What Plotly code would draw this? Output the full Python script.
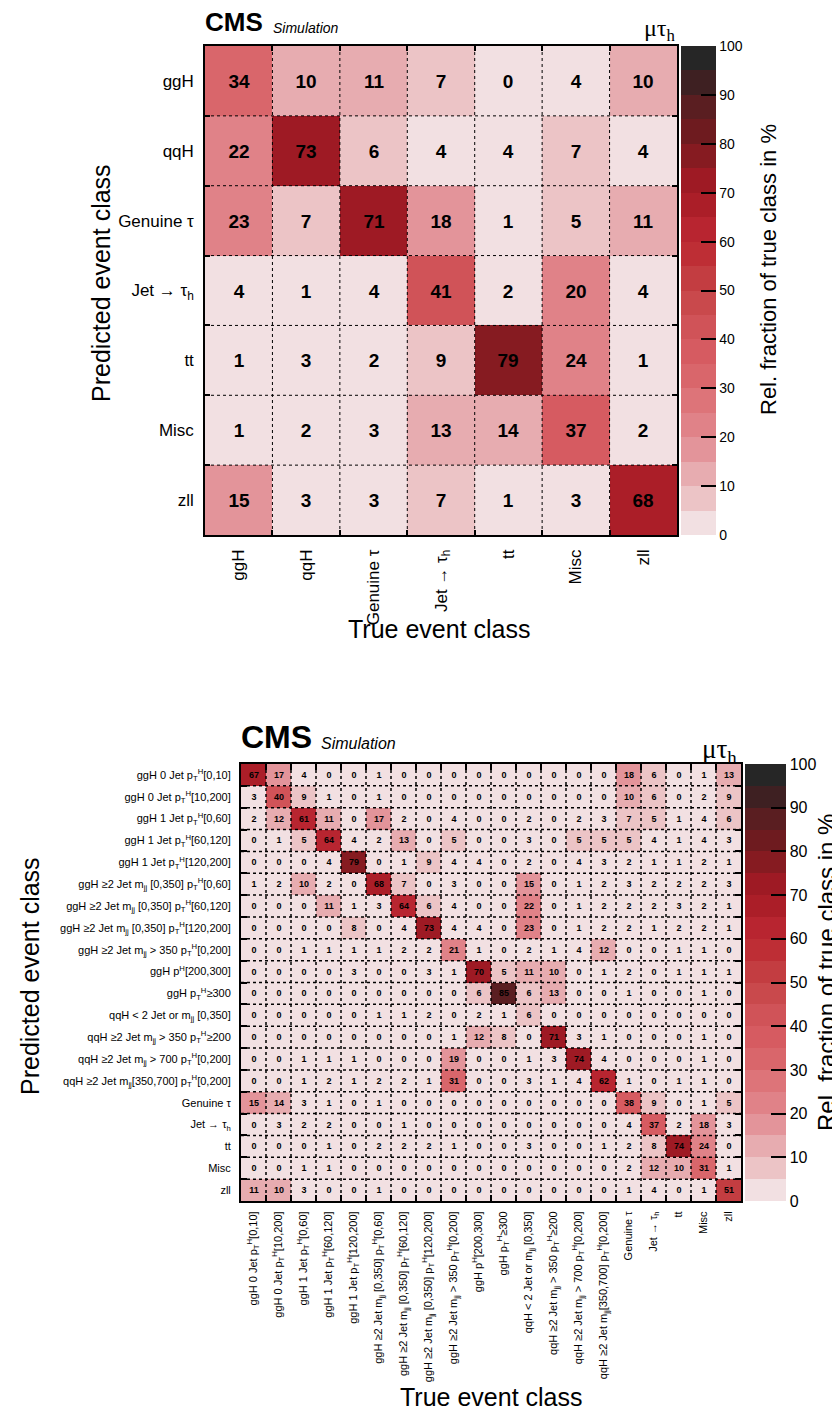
import plotly.graph_objects as go

W, H = 840, 1407
FONT = "Liberation Sans, Arial, Helvetica, sans-serif"

# ---------------- data ----------------
top_classes = ["ggH", "qqH", "Genuine τ", "Jet → τ<sub>h</sub>", "tt", "Misc", "zll"]
top_values = [
    [34, 10, 11, 7, 0, 4, 10],
    [22, 73, 6, 4, 4, 7, 4],
    [23, 7, 71, 18, 1, 5, 11],
    [4, 1, 4, 41, 2, 20, 4],
    [1, 3, 2, 9, 79, 24, 1],
    [1, 2, 3, 13, 14, 37, 2],
    [15, 3, 3, 7, 1, 3, 68],
]

pt = "p<sub>T</sub><sup>H</sup>"
bottom_classes = [
    "ggH 0 Jet " + pt + "[0,10]",
    "ggH 0 Jet " + pt + "[10,200]",
    "ggH 1 Jet " + pt + "[0,60]",
    "ggH 1 Jet " + pt + "[60,120]",
    "ggH 1 Jet " + pt + "[120,200]",
    "ggH ≥2 Jet m<sub>jj</sub> [0,350] " + pt + "[0,60]",
    "ggH ≥2 Jet m<sub>jj</sub> [0,350] " + pt + "[60,120]",
    "ggH ≥2 Jet m<sub>jj</sub> [0,350] " + pt + "[120,200]",
    "ggH ≥2 Jet m<sub>jj</sub> > 350 " + pt + "[0,200]",
    "ggH p<sup>H</sup>[200,300]",
    "ggH " + pt + "≥300",
    "qqH < 2 Jet or m<sub>jj</sub> [0,350]",
    "qqH ≥2 Jet m<sub>jj</sub> > 350 " + pt + "≥200",
    "qqH ≥2 Jet m<sub>jj</sub> > 700 " + pt + "[0,200]",
    "qqH ≥2 Jet m<sub>jj</sub>[350,700] " + pt + "[0,200]",
    "Genuine τ",
    "Jet → τ<sub>h</sub>",
    "tt",
    "Misc",
    "zll",
]
bottom_values = [
    [67, 17, 4, 0, 0, 1, 0, 0, 0, 0, 0, 0, 0, 0, 0, 18, 6, 0, 1, 13],
    [3, 40, 9, 1, 0, 1, 0, 0, 0, 0, 0, 0, 0, 0, 0, 10, 6, 0, 2, 9],
    [2, 12, 61, 11, 0, 17, 2, 0, 4, 0, 0, 2, 0, 2, 3, 7, 5, 1, 4, 6],
    [0, 1, 5, 64, 4, 2, 13, 0, 5, 0, 0, 3, 0, 5, 5, 5, 4, 1, 4, 3],
    [0, 0, 0, 4, 79, 0, 1, 9, 4, 4, 0, 2, 0, 4, 3, 2, 1, 1, 2, 1],
    [1, 2, 10, 2, 0, 68, 7, 0, 3, 0, 0, 15, 0, 1, 2, 3, 2, 2, 2, 3],
    [0, 0, 0, 11, 1, 3, 64, 6, 4, 0, 0, 22, 0, 1, 2, 2, 2, 3, 2, 1],
    [0, 0, 0, 0, 8, 0, 4, 73, 4, 4, 0, 23, 0, 1, 2, 2, 1, 2, 2, 1],
    [0, 0, 1, 1, 1, 1, 2, 2, 21, 1, 0, 2, 1, 4, 12, 0, 0, 1, 1, 0],
    [0, 0, 0, 0, 3, 0, 0, 3, 1, 70, 5, 11, 10, 0, 1, 2, 0, 1, 1, 1],
    [0, 0, 0, 0, 0, 0, 0, 0, 0, 6, 85, 6, 13, 0, 0, 1, 0, 0, 1, 0],
    [0, 0, 0, 0, 0, 1, 1, 2, 0, 2, 1, 6, 0, 0, 0, 0, 0, 0, 0, 0],
    [0, 0, 0, 0, 0, 0, 0, 0, 1, 12, 8, 0, 71, 3, 1, 0, 0, 0, 1, 0],
    [0, 0, 1, 1, 1, 0, 0, 0, 19, 0, 0, 1, 3, 74, 4, 0, 0, 0, 1, 0],
    [0, 0, 1, 2, 1, 2, 2, 1, 31, 0, 0, 3, 1, 4, 62, 1, 0, 1, 1, 0],
    [15, 14, 3, 1, 0, 1, 0, 0, 0, 0, 0, 0, 0, 0, 0, 38, 9, 0, 1, 5],
    [0, 3, 2, 2, 0, 0, 1, 0, 0, 0, 0, 0, 0, 0, 0, 4, 37, 2, 18, 3],
    [0, 0, 0, 1, 0, 2, 2, 2, 1, 0, 0, 3, 0, 0, 1, 2, 8, 74, 24, 0],
    [0, 0, 1, 1, 0, 0, 0, 0, 0, 0, 0, 0, 0, 0, 0, 2, 12, 10, 31, 1],
    [11, 10, 3, 0, 0, 1, 0, 0, 0, 0, 0, 0, 0, 0, 0, 1, 4, 0, 1, 51],
]
colorbar_ticks = [0, 10, 20, 30, 40, 50, 60, 70, 80, 90, 100]

# discrete palette, 20 bins of 5 %
palette = ["#f2e0e2", "#ecc4c6", "#e7acb0", "#e3949a", "#e08288", "#dd7479",
           "#d9666b", "#d65b61", "#d05358", "#c9494c", "#c33d41", "#be2e35",
           "#b82530", "#ab1e28", "#9e1a24", "#861b21", "#6e1b1f", "#5a1e21",
           "#3e2022", "#262626"]
colorscale = []
nb = len(palette)
for i, c in enumerate(palette):
    colorscale.append([i / nb, c])
    colorscale.append([(i + 1) / nb, c])


def px(x):
    return x / W


def py(y):
    return 1 - y / H


fig = go.Figure()

panels = [
    dict(classes=top_classes, values=top_values, xa="x", ya="y",
         box=(197, 669, 38, 527), cb=(673, 35), txt=19, tick=17, cbfont=14,
         line=1.5, dot=1, ticklen=5, cbtick=15, xstand=6),
    dict(classes=bottom_classes, values=bottom_values, xa="x2", ya="y2",
         box=(233, 733, 756, 1193), cb=(737, 41), txt=9, tick=11, cbfont=16,
         line=2, dot=1.5, ticklen=6, cbtick=15, xstand=4),
]

shapes = []
for k, p in enumerate(panels):
    n = len(p["classes"])
    x0, x1, y0, y1 = p["box"]
    fig.add_trace(go.Heatmap(
        z=p["values"], x=list(range(n)), y=list(range(n)),
        xaxis=p["xa"], yaxis=p["ya"],
        zmin=0, zmax=100, colorscale=colorscale,
        texttemplate="%{z}",
        textfont=dict(family=FONT, size=p["txt"], color="black", weight="bold"),
        hoverinfo="skip",
        colorbar=dict(
            x=px(p["cb"][0]), xanchor="left", y=py(y0), yanchor="top",
            len=(y1 - y0) / H, lenmode="fraction",
            thickness=p["cb"][1], thicknessmode="pixels",
            xpad=0, ypad=0, outlinewidth=0,
            tickvals=colorbar_ticks, ticks="inside", ticklen=p["cbtick"],
            tickwidth=1.5, tickcolor="black",
            tickfont=dict(family=FONT, size=p["cbfont"], color="black"),
        ),
    ))
    bounds = [i - 0.5 for i in range(1, n)]
    common = dict(
        range=[-0.5, n - 0.5], showgrid=False, zeroline=False,
        showline=True, linecolor="black", linewidth=p["line"], mirror="allticks",
        ticks="", tickvals=list(range(n)), ticktext=p["classes"],
        tickfont=dict(family=FONT, size=p["tick"], color="black"),
        layer="above traces", automargin=False,
        minor=dict(tickvals=bounds, ticks="inside", ticklen=p["ticklen"],
                   tickwidth=p["line"], tickcolor="black", showgrid=False),
    )
    xname = "xaxis" if k == 0 else "xaxis2"
    yname = "yaxis" if k == 0 else "yaxis2"
    xcfg = dict(common, domain=[px(x0), px(x1)], anchor=p["ya"], tickangle=-90,
                ticklabelstandoff=p["xstand"])
    ycfg = dict(common, domain=[py(y1), py(y0)], anchor=p["xa"], ticklabelstandoff=6)
    ycfg["range"] = [n - 0.5, -0.5]
    fig.update_layout(**{xname: xcfg, yname: ycfg})
    for b in bounds:
        shapes.append(dict(type="line", xref=p["xa"], yref=p["ya"], x0=b, x1=b,
                           y0=-0.5, y1=n - 0.5, layer="above",
                           line=dict(color="black", width=p["dot"], dash="dot")))
        shapes.append(dict(type="line", xref=p["xa"], yref=p["ya"], y0=b, y1=b,
                           x0=-0.5, x1=n - 0.5, layer="above",
                           line=dict(color="black", width=p["dot"], dash="dot")))

ann = []


def text(x, y, s, size, xanchor="center", yanchor="middle", angle=0, family=FONT):
    ann.append(dict(x=px(x), y=py(y), xref="paper", yref="paper", text=s,
                    showarrow=False, xanchor=xanchor, yanchor=yanchor,
                    textangle=angle, font=dict(family=family, size=size, color="black")))


SERIF = "Liberation Serif, DejaVu Serif, serif"

# top panel texts
text(195, 31, "<b>CMS</b>", 26, xanchor="left", yanchor="bottom")
text(263, 30, "<i>Simulation</i>", 14, xanchor="left", yanchor="bottom")
text(670, 39, "μτ<sub>h</sub>", 24, xanchor="right", yanchor="bottom", family=SERIF)
text(93, 275, "Predicted event class", 25, angle=-90)
text(431, 621, "True event class", 25)
text(760, 262, "Rel. fraction of true class in %", 22, angle=-90)

# bottom panel texts
text(231, 749, "<b>CMS</b>", 32, xanchor="left", yanchor="bottom")
text(311, 746, "<i>Simulation</i>", 16, xanchor="left", yanchor="bottom")
text(731, 762, "μτ<sub>h</sub>", 27, xanchor="right", yanchor="bottom", family=SERIF)
text(22, 968, "Predicted event class", 25, angle=-90)
text(483, 1389, "True event class", 25)
text(818, 965, "Rel. fraction of true class in %", 24, angle=-90)

fig.update_layout(
    width=W, height=H, autosize=False, template="none",
    margin=dict(l=0, r=0, t=0, b=0),
    paper_bgcolor="white", plot_bgcolor="white",
    showlegend=False, shapes=shapes, annotations=ann,
    font=dict(family=FONT, color="black"),
)

fig.write_html("out.html")
